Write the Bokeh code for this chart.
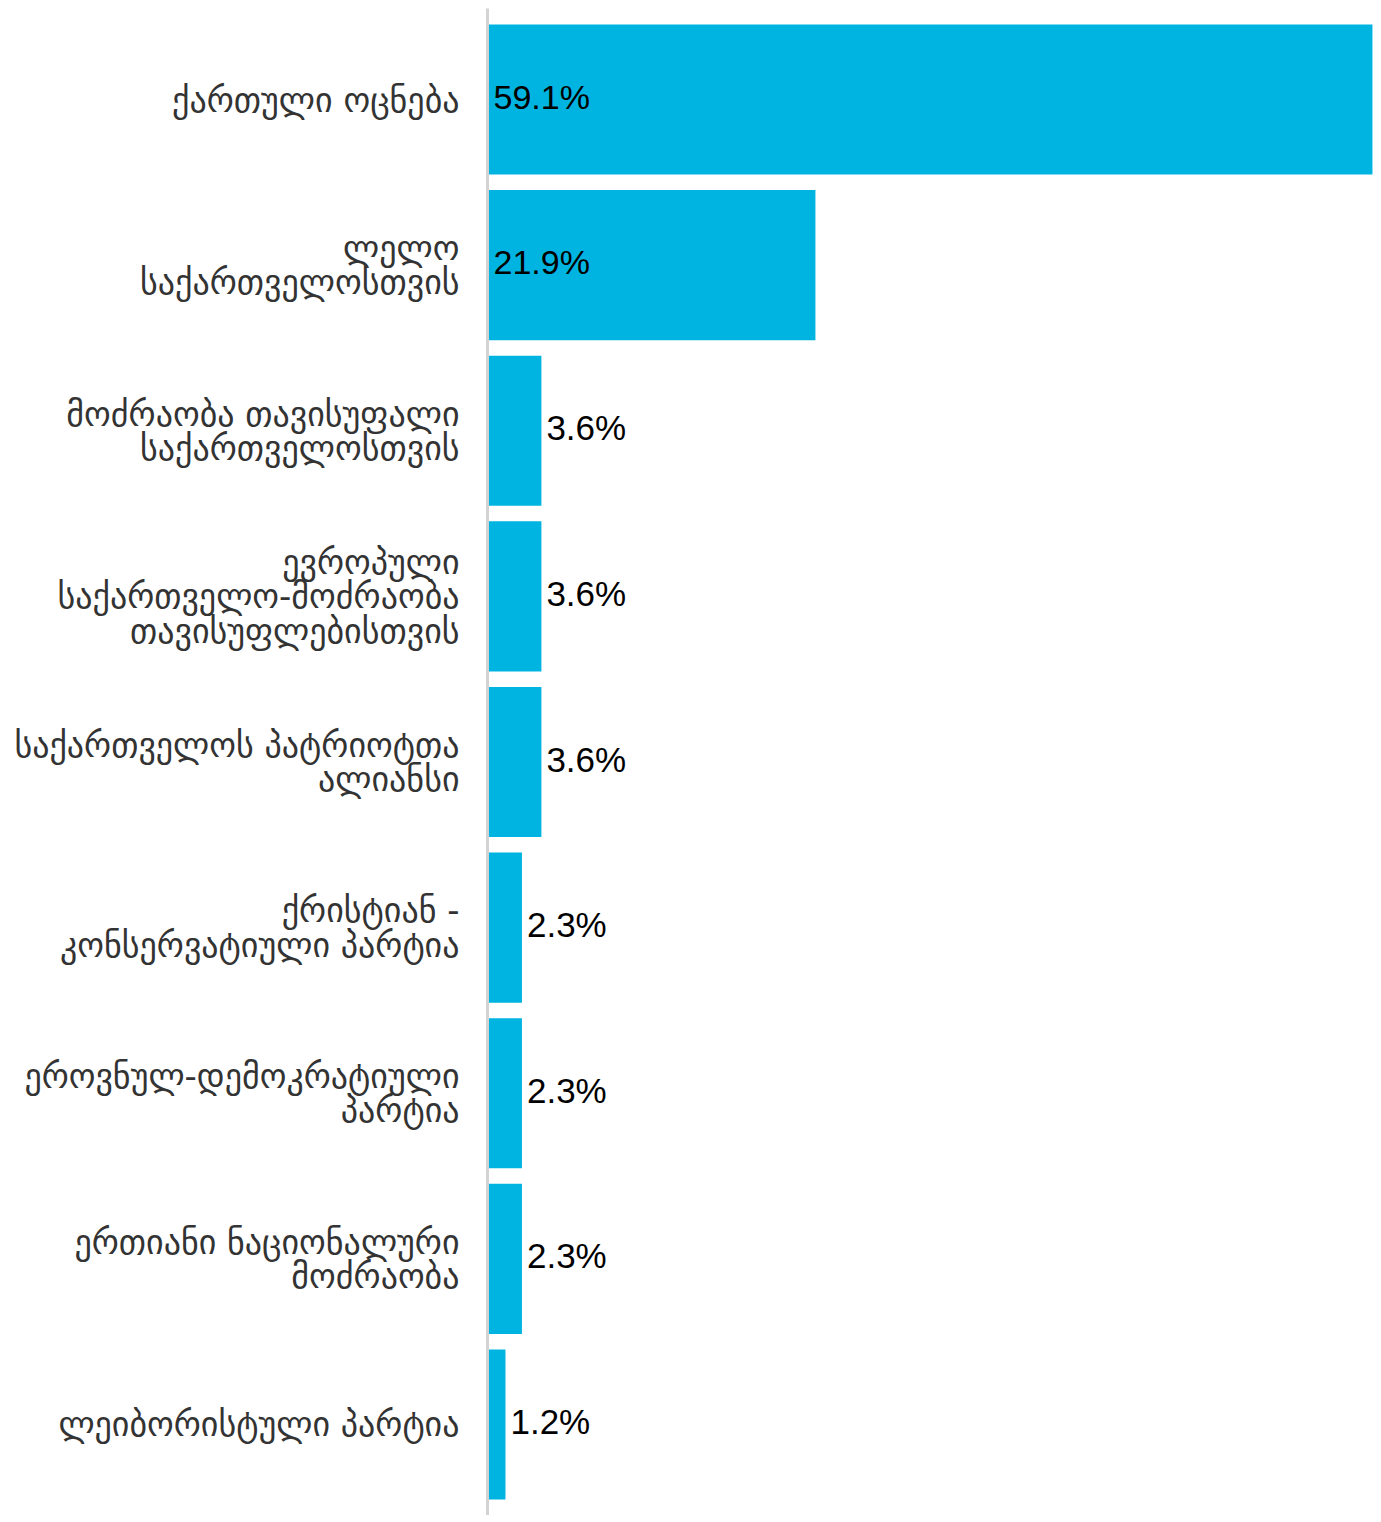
from bokeh.plotting import figure
from bokeh.models import ColumnDataSource, FactorRange, Range1d
from bokeh.embed import file_html
from bokeh.resources import INLINE
from bokeh.core.properties import value

categories = [
    "ქართული ოცნება",
    "ლელო\nსაქართველოსთვის",
    "მოძრაობა თავისუფალი\nსაქართველოსთვის",
    "ევროპული\nსაქართველო-მოძრაობა\nთავისუფლებისთვის",
    "საქართველოს პატრიოტთა\nალიანსი",
    "ქრისტიან -\nკონსერვატიული პარტია",
    "ეროვნულ-დემოკრატიული\nპარტია",
    "ერთიანი ნაციონალური\nმოძრაობა",
    "ლეიბორისტული პარტია",
]
values = [59.1, 21.9, 3.6, 3.6, 3.6, 2.3, 2.3, 2.3, 1.2]
value_labels = ["59.1%", "21.9%", "3.6%", "3.6%", "3.6%", "2.3%", "2.3%", "2.3%", "1.2%"]

inside = [v > 10 for v in values]
src_in = ColumnDataSource(dict(
    cat=[c for c, i in zip(categories, inside) if i],
    x=[0 for i in inside if i],
    lab=[l for l, i in zip(value_labels, inside) if i],
))
src_out = ColumnDataSource(dict(
    cat=[c for c, i in zip(categories, inside) if not i],
    x=[v for v, i in zip(values, inside) if not i],
    lab=[l for l, i in zip(value_labels, inside) if not i],
))
bars = ColumnDataSource(dict(cat=categories, val=values))

p = figure(
    width=1373, height=1515,
    y_range=FactorRange(factors=list(reversed(categories)), range_padding=0.0495,
                        range_padding_units="absolute"),
    x_range=Range1d(0, 59.17),
    output_backend="svg", toolbar_location=None,
    min_border_left=487, min_border_right=0, min_border_top=8, min_border_bottom=0,
)
p.hbar(y="cat", right="val", left=0, height=0.906, source=bars,
       fill_color="#00b4e1", line_color=None)

p.text(x="x", y="cat", text="lab", source=src_in, x_offset=6, y_offset=-3,
       text_align="left", text_baseline="middle",
       text_font=value("Liberation Sans"), text_font_size="34px", text_color="#000000")
p.text(x="x", y="cat", text="lab", source=src_out, x_offset=5, y_offset=-3,
       text_align="left", text_baseline="middle",
       text_font=value("Liberation Sans"), text_font_size="35px", text_color="#000000")

p.xaxis.visible = False
p.xgrid.visible = False
p.ygrid.visible = False
p.outline_line_color = None

ax = p.yaxis[0]
ax.axis_line_color = "#d3d3d3"
ax.axis_line_width = 3
ax.major_tick_line_color = None
ax.minor_tick_line_color = None
ax.major_label_standoff = 22
ax.major_label_text_font = "DejaVu Sans"
ax.major_label_text_font_size = "34px"
ax.major_label_text_color = "#333333"
ax.major_label_text_line_height = 0.86

open("out.html", "w").write(file_html(p, INLINE))
